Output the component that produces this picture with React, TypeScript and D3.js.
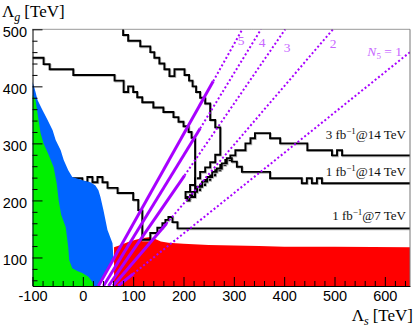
import { useEffect, useRef } from 'react'
import * as d3 from 'd3'

type P = [number, number]

// all points are (Λs, Λg) in TeV

// green excluded region, right edge from top-left down to the x axis
const greenEdge: P[] = [[-100, 385], [-94, 376], [-88, 341], [-84, 318], [-78, 300], [-68, 280], [-58, 258],
  [-52, 230], [-48, 200], [-43, 175], [-34, 153], [-29, 118], [-27, 95], [-21, 81], [-10, 76], [-1, 73],
  [11, 66], [19, 57], [22, 50]]

// blue excluded region, right edge
const blueEdge: P[] = [[-100, 408], [-97, 400], [-94, 390], [-90, 376], [-80, 358], [-70, 341], [-60, 323],
  [-54, 306], [-44, 288], [-38, 271], [-29, 253], [-21, 241], [-10, 238], [1, 235], [15, 232], [25, 226],
  [31, 218], [35, 206], [41, 183], [49, 148], [59, 125], [61, 96], [47, 73], [32, 50]]

// red excluded region, upper edge
const redTop: P[] = [[62, 118], [75, 122], [90, 127], [105, 131], [120, 134], [134, 136], [145, 132], [155, 128],
  [170, 126], [185, 125], [200, 124], [250, 122], [300, 121], [350, 120], [400, 119], [500, 119], [650, 118]]

// sensitivity contours
const contour3fb14: P[] = [[80, 500], [80, 490], [90, 490], [90, 480], [114, 480], [114, 470], [134, 470],
  [134, 460], [142, 460], [142, 450], [152, 450], [152, 440], [162, 440], [162, 430], [172, 430], [172, 418],
  [182, 418], [182, 430], [202, 430], [202, 420], [211, 420], [211, 410], [218, 410], [218, 400], [225, 400],
  [225, 390], [233, 390], [233, 380], [243, 380], [243, 370], [253, 370], [253, 341], [263, 341], [263, 328],
  [273, 328], [273, 280], [263, 280], [263, 267], [253, 267], [253, 258], [243, 258], [243, 250], [233, 250],
  [233, 239], [223, 239], [223, 227], [213, 227], [213, 215], [204, 215], [204, 204], [213, 204], [213, 209],
  [223, 209], [223, 218], [233, 218], [233, 227], [243, 227], [243, 236], [253, 236], [253, 244], [263, 244],
  [263, 253], [273, 253], [273, 262], [283, 262], [283, 271], [293, 271], [293, 279], [303, 279], [303, 288],
  [323, 288], [323, 300], [333, 300], [333, 309], [342, 309], [342, 318], [372, 318], [372, 309], [392, 309],
  [392, 300], [446, 300], [446, 288], [495, 288], [495, 279], [505, 279], [505, 288], [515, 288], [515, 279],
  [650, 279]]

const contour1fb14: P[] = [[-100, 450], [-78, 450], [-78, 439], [-66, 439], [-66, 430], [-19, 430], [-19, 420],
  [63, 420], [63, 410], [81, 410], [81, 390], [90, 390], [90, 400], [100, 400], [100, 390], [108, 390],
  [108, 381], [118, 381], [118, 372], [140, 372], [140, 363], [160, 363], [160, 355], [180, 355], [180, 346],
  [190, 346], [190, 338], [200, 338], [200, 330], [210, 330], [210, 320], [216, 320], [216, 310], [223, 310],
  [223, 206], [212, 206], [212, 200], [207, 200], [207, 206], [217, 206], [217, 215], [227, 215], [227, 224],
  [237, 224], [237, 233], [247, 233], [247, 241], [257, 241], [257, 250], [266, 250], [266, 256], [276, 256],
  [276, 265], [286, 265], [286, 274], [296, 274], [296, 268], [306, 268], [306, 259], [316, 259], [316, 250],
  [372, 250], [372, 239], [435, 239], [435, 230], [445, 230], [445, 239], [455, 239], [455, 230], [465, 230],
  [465, 239], [475, 239], [475, 230], [650, 230]]

const contour1fb7: P[] = [[-100, 239], [-1, 239], [-1, 232], [9, 232], [9, 241], [19, 241], [19, 232], [29, 232],
  [29, 241], [39, 241], [39, 232], [49, 232], [49, 222], [69, 222], [69, 213], [100, 213], [100, 201],
  [110, 201], [110, 183], [118, 183], [118, 131], [134, 131], [134, 143], [148, 143], [148, 152], [158, 152],
  [158, 160], [164, 160], [164, 166], [170, 166], [170, 171], [178, 171], [178, 162], [188, 162], [188, 151],
  [650, 151]]

// N5 lines: start on the x axis, solid part, dotted part up to the frame
const nLabels = ['5', '4', '3', '2', '1']
const lineBaseS = [31, 41, 51, 60, 70]
const lineEndS = [317, 354, 402, 497, 650]
const lineEndG = [500, 500, 500, 500, 460]
const solidEndS = [259, 233, 202, 166, 100]

const xTicks = [-100, 0, 100, 200, 300, 400, 500, 600]
const yTicks = [100, 200, 300, 400, 500]

const violet = '#a800ff'

const App = () => {
  const ref = useRef<SVGSVGElement>(null)

  useEffect(() => {
    const svg = d3.select(ref.current)
    svg.selectAll('*').remove()

    const x = d3.scaleLinear().domain([-100, 650]).range([32.5, 410])
    const y = d3.scaleLinear().domain([50, 500]).range([286, 29.3])
    const line = d3.line<P>().x(d => x(d[0])).y(d => y(d[1]))

    svg.append('defs').append('clipPath').attr('id', 'frame').append('rect')
      .attr('x', x(-100)).attr('y', y(500))
      .attr('width', x(650) - x(-100)).attr('height', y(50) - y(500))

    const plot = svg.append('g').attr('clip-path', 'url(#frame)')

    plot.append('path')
      .attr('d', line([[redTop[0][0], 50], ...redTop, [650, 50]]) + 'Z')
      .attr('fill', '#ff0000')

    // contours (under the blue fill, like the original)
    ;[contour3fb14, contour1fb14, contour1fb7].forEach(c => {
      plot.append('path').attr('d', line(c)).attr('fill', 'none')
        .attr('stroke', '#b4b4b4').attr('stroke-width', 1.8)
        .attr('transform', 'translate(0.9,0.9)')
      plot.append('path').attr('d', line(c)).attr('fill', 'none')
        .attr('stroke', '#000').attr('stroke-width', 1.9)
    })

    plot.append('path').attr('d', line([[-100, 50], ...blueEdge]) + 'Z').attr('fill', '#0064ff')
    plot.append('path').attr('d', line([[-100, 50], ...greenEdge]) + 'Z').attr('fill', '#00f000')

    nLabels.forEach((n, i) => {
      const base: P = [lineBaseS[i], 50]
      const end: P = [lineEndS[i], lineEndG[i]]
      const t = (solidEndS[i] - base[0]) / (end[0] - base[0])
      const mid: P = [solidEndS[i], base[1] + t * (end[1] - base[1])]
      plot.append('path').attr('d', line([base, mid]))
        .attr('stroke', violet).attr('stroke-width', 3)
      plot.append('path').attr('d', line([mid, end]))
        .attr('stroke', violet).attr('stroke-width', 2)
        .attr('stroke-dasharray', '2 2.3')
    })

    // frame
    svg.append('line').attr('x1', x(-100)).attr('x2', x(650)).attr('y1', y(500)).attr('y2', y(500))
      .attr('stroke', '#333').attr('stroke-dasharray', '1 1')
    svg.append('line').attr('x1', x(650)).attr('x2', x(650)).attr('y1', y(500)).attr('y2', y(50))
      .attr('stroke', '#777')

    // axes, ticks inside
    const xMinor = d3.range(-80, 650, 20).filter(v => v % 100 !== 0)
    const yMinor = d3.range(60, 500, 20).filter(v => v % 100 !== 0)
    const sans = 'Liberation Sans, Arial, sans-serif'

    svg.append('g').attr('transform', `translate(0,${y(50)})`)
      .call(d3.axisBottom(x).tickValues(xMinor).tickSize(-5).tickSizeOuter(0).tickFormat(() => ''))
      .call(g => g.select('.domain').remove())
    const gx = svg.append('g').attr('transform', `translate(0,${y(50)})`)
      .call(d3.axisBottom(x).tickValues(xTicks).tickSize(-9).tickSizeOuter(0).tickPadding(5)
        .tickFormat(d => String(d)))
    gx.attr('font-size', 14.5).attr('font-family', sans)

    svg.append('g').attr('transform', `translate(${x(-100)},0)`)
      .call(d3.axisLeft(y).tickValues(yMinor).tickSize(-5).tickSizeOuter(0).tickFormat(() => ''))
      .call(g => g.select('.domain').remove())
    const gy = svg.append('g').attr('transform', `translate(${x(-100)},0)`)
      .call(d3.axisLeft(y).tickValues(yTicks).tickSize(-10).tickSizeOuter(0).tickPadding(5.5)
        .tickFormat(d => String(d)))
    gy.attr('font-size', 14.5).attr('font-family', sans)
    gy.selectAll('text').attr('dy', '0.5em')

    const serif = 'Liberation Serif, Times New Roman, serif'

    svg.append('text').attr('x', 2).attr('y', 17).attr('font-family', serif).attr('font-size', 17)
      .html('Λ<tspan font-style="italic" font-size="12" dy="4">g</tspan><tspan dy="-4" dx="4">[TeV]</tspan>')
    svg.append('text').attr('x', 413).attr('y', 321).attr('text-anchor', 'end')
      .attr('font-family', serif).attr('font-size', 17)
      .html('Λ<tspan font-style="italic" font-size="12" dy="4">s</tspan><tspan dy="-4" dx="4">[TeV]</tspan>')

    const contourText = [
      { lumi: '3', energy: '14', y: 139 },
      { lumi: '1', energy: '14', y: 176 },
      { lumi: '1', energy: '7', y: 220 },
    ]
    contourText.forEach(d => {
      svg.append('text').attr('x', 406).attr('y', d.y).attr('text-anchor', 'end')
        .attr('font-family', serif).attr('font-size', 13).attr('fill', '#111')
        .html(`${d.lumi} fb<tspan font-size="9" dy="-5">−1</tspan><tspan dy="5">@${d.energy} TeV</tspan>`)
    })

    const nPos = [[241, 45], [262, 47], [287, 52], [333, 48]]
    nPos.forEach((p, i) => {
      svg.append('text').attr('x', p[0]).attr('y', p[1]).attr('text-anchor', 'middle')
        .attr('font-family', serif).attr('font-size', 13.5).attr('fill', '#c766ff')
        .text(nLabels[i])
    })
    svg.append('text').attr('x', 402).attr('y', 56).attr('text-anchor', 'end')
      .attr('font-family', serif).attr('font-size', 13.5).attr('fill', '#c766ff')
      .html(`<tspan font-style="italic">N</tspan><tspan font-size="9" dy="3">5</tspan><tspan dy="-3"> = ${nLabels[4]}</tspan>`)
  }, [])

  return (
    <div>
      <style>{'body{margin:0}'}</style>
      <svg ref={ref} width={415} height={332} style={{ display: 'block', background: '#fff' }} />
    </div>
  )
}

export default App
